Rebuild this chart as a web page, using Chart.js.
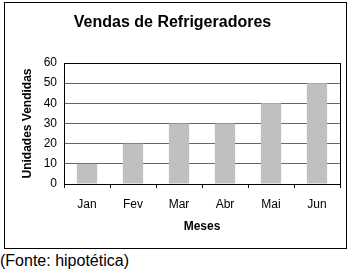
<!DOCTYPE html>
<html>
<head>
<meta charset="utf-8">
<script src="https://cdn.jsdelivr.net/npm/chart.js@4"></script>
<style>
  body { margin: 0; background: #fff; font-family: "Liberation Sans", Arial, sans-serif; }
  #box { position: absolute; left: 4px; top: 2px; width: 341px; height: 245px; border: 1px solid #000; }
  #caption { position: absolute; left: 0; top: 252px; font-size: 16px; color: #000; }
</style>
</head>
<body>
<div id="box"><canvas id="chart" width="341" height="245"></canvas></div>
<div id="caption">(Fonte: hipotética)</div>
<script>
const months = ['Jan', 'Fev', 'Mar', 'Abr', 'Mai', 'Jun'];
const unitsSold = [10, 20, 30, 30, 40, 50];
const yTicks = [0, 10, 20, 30, 40, 50, 60];

const font = 'Liberation Sans';

// black frame around the plot area
const plotFrame = {
  id: 'plotFrame',
  afterDraw(chart) {
    const { ctx, chartArea: a } = chart;
    ctx.save();
    ctx.strokeStyle = '#000';
    ctx.lineWidth = 1;
    ctx.strokeRect(Math.round(a.left) + 0.5, Math.round(a.top) + 0.5, Math.round(a.right - a.left), Math.round(a.bottom - a.top));
    ctx.restore();
  }
};

new Chart(document.getElementById('chart'), {
  type: 'bar',
  data: {
    labels: months,
    datasets: [{ label: 'Unidades Vendidas', data: unitsSold, backgroundColor: '#c0c0c0', borderWidth: 0,
      categoryPercentage: 1, barPercentage: 0.44 }]
  },
  options: {
    responsive: false,
    animation: false,
    layout: { padding: { left: 0, right: 6, top: 0, bottom: 0 } },
    plugins: {
      legend: { display: false },
      tooltip: { enabled: false },
      title: {
        display: true, text: 'Vendas de Refrigeradores', color: '#000',
        font: { family: font, size: 16, weight: 'bold' },
        padding: { top: 10.4, bottom: 30.4 }
      }
    },
    scales: {
      x: {
        afterFit: s => { s.height = 64; },
        grid: { drawOnChartArea: false, drawTicks: true, tickLength: 4, color: '#000' },
        border: { color: '#000' },
        ticks: { color: '#000', font: { family: font, size: 12 }, padding: 9 },
        title: { display: true, text: 'Meses', color: '#000', font: { family: font, size: 12, weight: 'bold' }, padding: { top: 4, bottom: 14 } }
      },
      y: {
        min: 0, max: 60,
        afterFit: s => { s.width = 59; },
        afterBuildTicks: s => { s.ticks = yTicks.map(v => ({ value: v })); },
        grid: { color: '#666', drawTicks: false },
        border: { color: '#000' },
        ticks: { color: '#000', font: { family: font, size: 12 }, padding: 7 },
        title: { display: true, text: 'Unidades Vendidas', color: '#000', font: { family: font, size: 12, weight: 'bold' }, padding: { top: 15 } }
      }
    }
  },
  plugins: [plotFrame]
});
</script>
</body>
</html>
